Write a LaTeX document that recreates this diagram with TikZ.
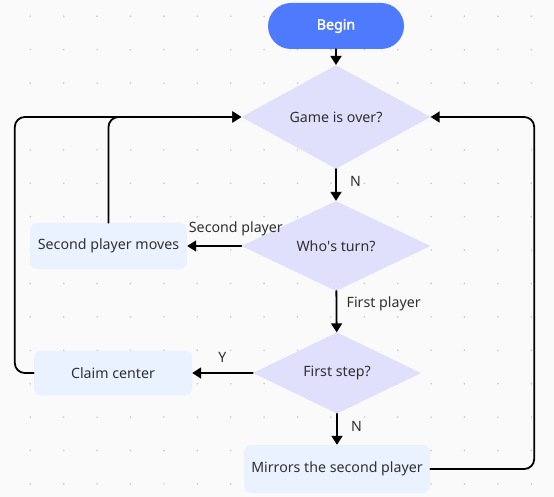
\documentclass[tikz,border=0pt]{standalone}
\usepackage{fontspec}
\setmainfont{Noto Sans}[AutoFakeBold=2.2]
\usetikzlibrary{shapes.geometric,arrows.meta}
\definecolor{beginblue}{HTML}{4E7BFD}
\definecolor{askfill}{HTML}{E0E0FC}
\definecolor{boxfill}{HTML}{EBF2FF}
\definecolor{txt}{HTML}{303030}
\definecolor{paper}{HTML}{FAFAFA}
\definecolor{griddot}{HTML}{C9C9C9}
\begin{document}
\begin{tikzpicture}[x=1pt, y=-1pt, font=\fontsize{14.2}{16}\selectfont, line join=round, line cap=round, >={Triangle[length=9pt,width=11pt]},
	ask/.style={diamond, fill=askfill, text=txt, inner sep=0pt},
	box/.style={rectangle, rounded corners=7pt, fill=boxfill, text=txt},
	link/.style={->, line width=1.8pt, black},
	lbl/.style={text=txt}]
				\fill[paper] (0,0) rectangle (554,497);
				\foreach \i in {0,...,15}
					\foreach \j in {0,...,14}
						\fill[griddot] (30.3+33.4*\i, 16.3+33.4*\j) circle (0.9pt);
				\node[rectangle, rounded corners=23pt, fill=beginblue, text=white, font=\fontsize{14.2}{16}\selectfont\bfseries, minimum width=136pt, minimum height=46pt] (begin) at (336,26) {Begin};
				\node[ask, minimum width=189pt, minimum height=83pt] (over) at (336,117) {Game is over?};
				\node[ask, minimum width=189pt, minimum height=84pt] (turn) at (336,246) {Who\textquotesingle s turn?};
				\node[ask, minimum width=168pt, minimum height=76pt] (first) at (337,373) {First step?};
				\node[box, minimum width=157pt, minimum height=46pt] (moves) at (108.5,246) {Second player moves};
				\node[box, minimum width=158pt, minimum height=45pt] (claim) at (113,373) {Claim center};
				\node[box, minimum width=186pt, minimum height=48pt] (mirror) at (337,469) {Mirrors the second player};
				\draw[link] (begin) -- (over);
				\draw[link] (over) -- node[lbl, pos=0.4, right=10pt]{N} (turn);
				\draw[link] (turn) -- node[lbl, pos=0.1, above=6pt]{Second player} (moves);
				\draw[link] (turn) -- node[lbl, pos=0.3, right=6pt]{First player} (first);
				\draw[link] (first) -- node[lbl, midway, above=6pt]{Y} (claim);
				\draw[link] (first) -- node[lbl, pos=0.4, right=10pt]{N} (mirror);
				\draw[link, rounded corners=10pt] (moves.north) |- (over.west);
				\draw[link, rounded corners=10pt] (claim.west) -- ++(-19,0) |- (over.west);
				\draw[link, rounded corners=10pt] (mirror.east) -- ++(104,0) |- (over.east);
\end{tikzpicture}
\end{document}
